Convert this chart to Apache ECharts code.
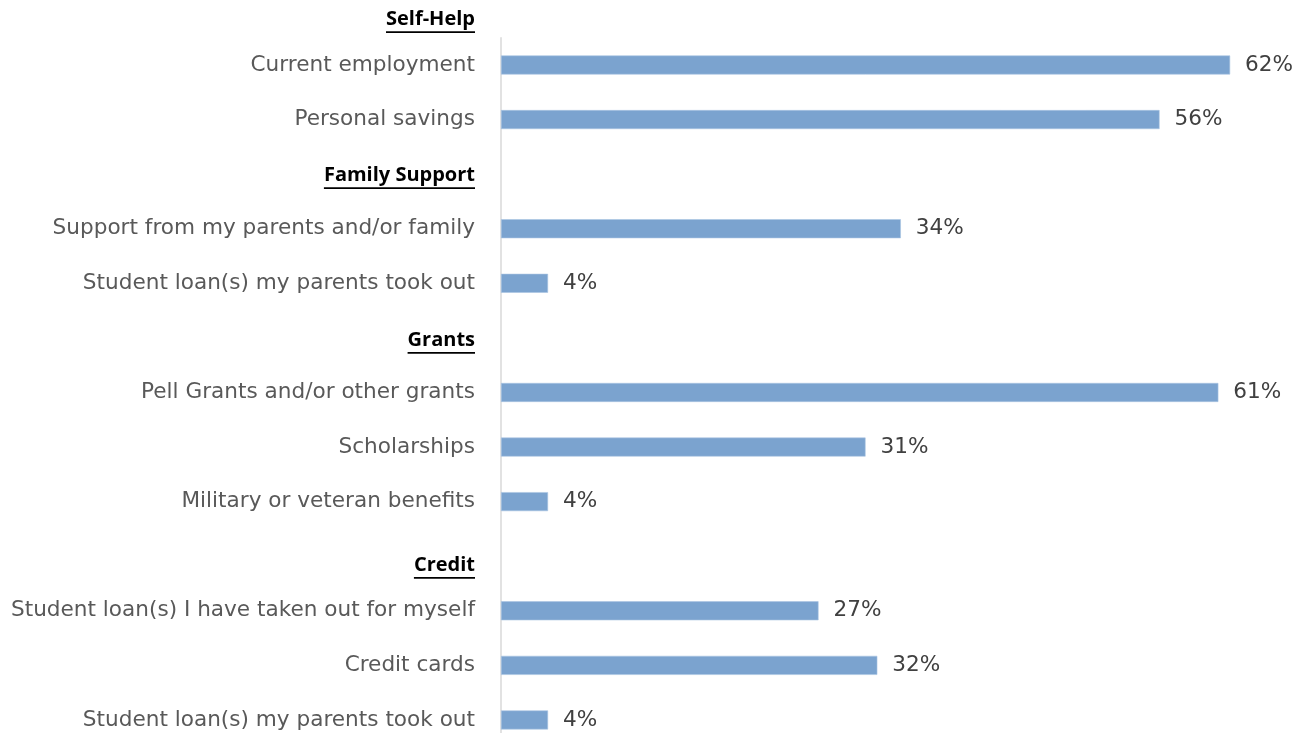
<!DOCTYPE html>
<html>
<head>
<meta charset="utf-8">
<script src="https://cdn.jsdelivr.net/npm/echarts@6/dist/echarts.min.js"></script>
<style>
  html, body { margin: 0; padding: 0; background: #ffffff; overflow: hidden; }
  /* the last row runs slightly past the bottom of the window */
  #chart { width: 1305px; height: 748px; }
</style>
</head>
<body>
<div id="chart"></div>
<script>
// Funding sources, grouped; empty strings leave a gap row under each group heading
const categories = [
  'Current employment',
  'Personal savings',
  '',
  'Support from my parents and/or family',
  'Student loan(s) my parents took out',
  '',
  'Pell Grants and/or other grants',
  'Scholarships',
  'Military or veteran benefits',
  '',
  'Student loan(s) I have taken out for myself',
  'Credit cards',
  'Student loan(s) my parents took out'
];
const values = [62, 56, null, 34, 4, null, 61, 31, 4, null, 27, 32, 4];

// Group headings and the row they sit on (Self-Help sits above the first row)
const groupNames = ['Self-Help', 'Family Support', 'Grants', 'Credit'];
const groupRows = [-0.84, 2.02, 5.04, 9.16];

const FONT = '"DejaVu Sans", "Open Sans", sans-serif';
const HEAD_FONT = '"Open Sans", "Liberation Sans", sans-serif';

const chart = echarts.init(document.getElementById('chart'), null, { renderer: 'canvas' });

const TOP = 37.7;
const ROW = 54.58;
const option = {
  animation: false,
  backgroundColor: '#ffffff',
  grid: { left: 501, width: 764.4, top: TOP, height: ROW * categories.length, containLabel: false },
  xAxis: {
    type: 'value',
    min: 0,
    max: 65,
    show: false
  },
  yAxis: {
    type: 'category',
    inverse: true,
    data: categories,
    axisLine: { show: true, lineStyle: { color: '#d9d9d9', width: 1.5 } },
    axisTick: { show: false },
    axisLabel: {
      margin: 26,
      color: '#595959',
      fontFamily: FONT,
      fontSize: 21.6
    }
  },
  series: [{
    type: 'bar',
    data: values,
    barWidth: 19,
    itemStyle: { color: '#7ba3cf', borderColor: '#a9c4e2', borderWidth: 0.6 },
    label: {
      show: true,
      position: 'right',
      distance: 15,
      formatter: p => p.value + '%',
      color: '#404040',
      fontFamily: FONT,
      fontSize: 21.6
    }
  }]
};

chart.setOption(option);

// Bold, underlined group headings placed against the category rows
function textWidth(str, font) {
  const c = document.createElement('canvas').getContext('2d');
  c.font = font;
  return c.measureText(str).width;
}
const headFont = 'bold 20px ' + HEAD_FONT;
const rightEdge = 475;
const firstRow = chart.convertToPixel({ yAxisIndex: 0 }, 0);
const graphics = [];
groupNames.forEach((name, i) => {
  const yc = firstRow + groupRows[i] * ROW;
  const w = textWidth(name, headFont);
  graphics.push({
    type: 'text',
    x: rightEdge,
    y: yc,
    style: {
      text: name,
      font: headFont,
      fill: '#000000',
      align: 'right',
      verticalAlign: 'middle'
    }
  });
  graphics.push({
    type: 'rect',
    shape: { x: rightEdge - w, y: yc + 12, width: w, height: 1.8 },
    style: { fill: '#000000' }
  });
});
chart.setOption({ graphic: graphics });
</script>
</body>
</html>
